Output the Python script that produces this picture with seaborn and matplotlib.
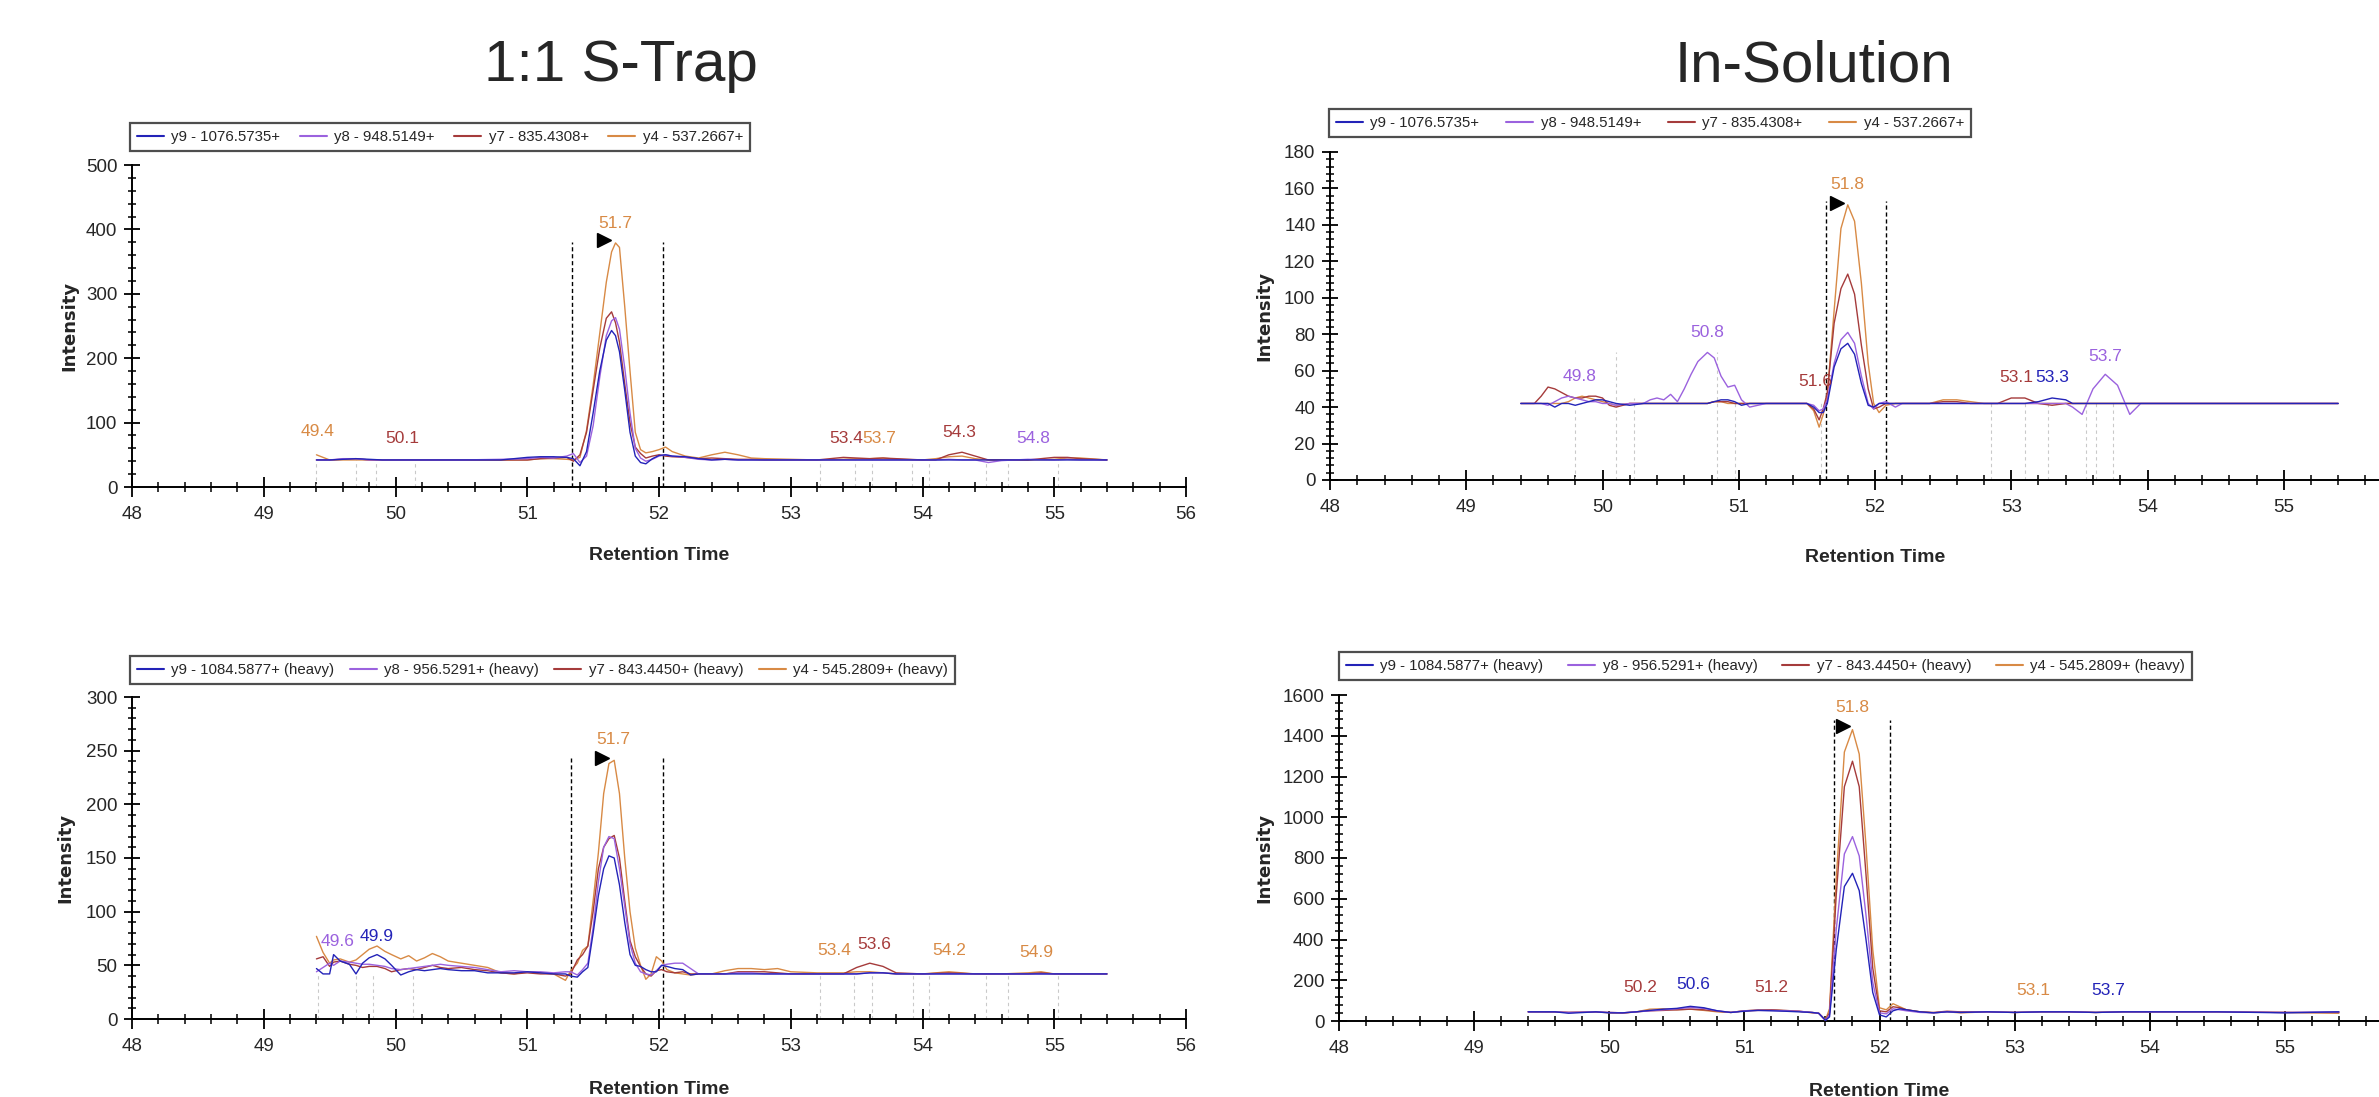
import numpy as np
import pandas as pd
import matplotlib
matplotlib.use('Agg')
import matplotlib.pyplot as plt
import seaborn as sns
from matplotlib import font_manager
from matplotlib.lines import Line2D
from matplotlib.ticker import MultipleLocator

# ---------------- data ----------------
ions = ['y9', 'y8', 'y7', 'y4']
top_labels = ['y9 - 1076.5735+', 'y8 - 948.5149+', 'y7 - 835.4308+', 'y4 - 537.2667+']
bottom_labels = ['y9 - 1084.5877+ (heavy)', 'y8 - 956.5291+ (heavy)',
                 'y7 - 843.4450+ (heavy)', 'y4 - 545.2809+ (heavy)']

# 1:1 S-Trap, light
tl_time = [49.4, 49.5, 49.6, 49.7, 49.8, 49.9, 50.0, 50.2, 50.5, 50.8,
           51.0, 51.1, 51.2, 51.3, 51.35, 51.4, 51.45, 51.5, 51.55, 51.6,
           51.64, 51.67, 51.7, 51.74, 51.78, 51.82, 51.86, 51.9, 51.95, 52.0,
           52.05, 52.1, 52.2, 52.3, 52.4, 52.5, 52.6, 52.7, 52.8, 53.0,
           53.2, 53.4, 53.5, 53.6, 53.7, 53.8, 54.0, 54.1, 54.2, 54.3,
           54.4, 54.5, 54.6, 54.8, 55.0, 55.1, 55.2, 55.4]
tl_y9 = [42, 42, 43, 44, 43, 42, 42, 42, 42, 42,
         46, 47, 47, 46, 44, 33, 55, 115, 180, 228,
         243, 235, 210, 150, 85, 48, 38, 36, 44, 49,
         50, 48, 47, 44, 42, 43, 42, 42, 42, 42,
         42, 42, 42, 42, 42, 42, 42, 42, 42, 42,
         42, 42, 42, 42, 42, 42, 42, 42]
tl_y8 = [42, 42, 44, 44, 42, 42, 42, 42, 42, 43,
         44, 46, 45, 48, 52, 38, 48, 95, 170, 235,
         258, 263, 245, 185, 115, 60, 45, 40, 43, 48,
         50, 48, 46, 43, 42, 43, 42, 42, 42, 42,
         42, 42, 42, 42, 42, 42, 42, 42, 43, 42,
         42, 38, 41, 43, 42, 43, 42, 42]
tl_y7 = [42, 42, 43, 44, 42, 42, 42, 42, 42, 42,
         42, 44, 45, 46, 40, 50, 85, 150, 215, 262,
         272, 255, 225, 160, 100, 62, 52, 45, 48, 50,
         48, 47, 46, 44, 45, 44, 43, 43, 42, 42,
         42, 46, 45, 44, 45, 44, 42, 42, 50, 54,
         48, 42, 42, 42, 46, 46, 44, 42]
tl_y4 = [50, 42, 42, 42, 42, 42, 42, 42, 42, 42,
         42, 44, 44, 43, 42, 46, 88, 158, 238, 318,
         365, 379, 372, 280, 180, 85, 58, 53, 55, 58,
         62, 55, 48, 45, 50, 54, 50, 45, 44, 43,
         42, 43, 44, 44, 45, 43, 42, 44, 47, 48,
         44, 42, 42, 42, 43, 45, 45, 42]

# In-Solution, light
tr_time = [49.4, 49.5, 49.55, 49.6, 49.65, 49.7, 49.75, 49.8, 49.85, 49.9,
           49.95, 50.0, 50.05, 50.1, 50.2, 50.3, 50.35, 50.4, 50.45, 50.5,
           50.55, 50.6, 50.65, 50.7, 50.77, 50.82, 50.87, 50.92, 50.97, 51.02,
           51.08, 51.2, 51.4, 51.5, 51.55, 51.59, 51.62, 51.65, 51.7, 51.75,
           51.8, 51.85, 51.9, 51.95, 51.99, 52.03, 52.08, 52.15, 52.2, 52.3,
           52.4, 52.5, 52.6, 52.7, 52.8, 52.9, 53.0, 53.1, 53.2, 53.3,
           53.4, 53.45, 53.52, 53.6, 53.69, 53.78, 53.87, 53.95, 54.2, 54.6,
           55.0, 55.4]
tr_y9 = [42, 42, 42, 42, 40, 42, 42, 41, 42, 43,
         44, 44, 43, 42, 41, 42, 42, 42, 42, 42,
         42, 42, 42, 42, 42, 43, 44, 44, 43, 41,
         42, 42, 42, 42, 40, 37, 37, 42, 62, 72,
         75, 69, 53, 41, 40, 42, 42, 42, 42, 42,
         42, 42, 42, 42, 42, 42, 42, 42, 43, 45,
         44, 42, 42, 42, 42, 42, 42, 42, 42, 42,
         42, 42]
tr_y8 = [42, 42, 42, 41, 43, 45, 46, 45, 44, 43,
         43, 42, 42, 41, 42, 42, 44, 45, 44, 47,
         43, 50, 58, 65, 70, 67, 57, 51, 52, 44,
         40, 42, 42, 42, 41, 38, 39, 44, 64, 77,
         81, 75, 57, 42, 39, 42, 43, 40, 42, 42,
         42, 42, 42, 42, 42, 42, 42, 42, 42, 42,
         42, 40, 36, 50, 58, 52, 36, 42, 42, 42,
         42, 42]
tr_y7 = [42, 42, 46, 51, 50, 48, 46, 45, 45, 46,
         46, 45, 41, 40, 42, 42, 42, 42, 42, 42,
         42, 42, 42, 42, 42, 43, 43, 43, 42, 42,
         42, 42, 42, 42, 39, 33, 39, 48, 86, 105,
         113, 102, 74, 50, 39, 40, 42, 42, 42, 42,
         42, 43, 43, 42, 42, 42, 45, 45, 42, 41,
         42, 42, 42, 42, 42, 42, 42, 42, 42, 42,
         42, 42]
tr_y4 = [42, 42, 42, 42, 42, 42, 43, 45, 46, 45,
         44, 43, 42, 41, 42, 42, 42, 42, 42, 42,
         42, 42, 42, 42, 42, 43, 43, 42, 42, 42,
         42, 42, 42, 42, 38, 29, 36, 47, 93, 138,
         151, 142, 108, 64, 42, 37, 41, 42, 42, 42,
         42, 44, 44, 43, 42, 42, 42, 42, 42, 42,
         42, 42, 42, 42, 42, 42, 42, 42, 42, 42,
         42, 42]

# 1:1 S-Trap, heavy
bl_time = [49.4, 49.45, 49.5, 49.53, 49.58, 49.65, 49.7, 49.75, 49.8, 49.86,
           49.92, 49.97, 50.04, 50.1, 50.16, 50.22, 50.28, 50.34, 50.4, 50.5,
           50.6, 50.7, 50.8, 50.9, 51.0, 51.1, 51.2, 51.29, 51.33, 51.38,
           51.42, 51.46, 51.5, 51.54, 51.58, 51.62, 51.66, 51.7, 51.74, 51.78,
           51.82, 51.86, 51.9, 51.94, 51.98, 52.02, 52.06, 52.12, 52.18, 52.24,
           52.3, 52.4, 52.5, 52.6, 52.7, 52.8, 52.9, 53.0, 53.2, 53.4,
           53.5, 53.6, 53.7, 53.8, 54.0, 54.2, 54.4, 54.6, 54.8, 54.9,
           55.0, 55.2, 55.4]
bl_y9 = [47, 42, 42, 60, 54, 51, 42, 52, 57, 60,
         56, 50, 41, 44, 46, 45, 46, 47, 46, 45,
         45, 43, 43, 43, 44, 43, 42, 42, 40, 39,
         44, 48, 80, 115, 140, 152, 150, 125, 90, 60,
         50, 49, 46, 44, 44, 50, 49, 47, 46, 41,
         42, 42, 42, 42, 42, 42, 42, 42, 42, 42,
         42, 43, 43, 42, 42, 42, 42, 42, 42, 42,
         42, 42, 42]
bl_y8 = [44, 48, 52, 50, 54, 53, 52, 51, 51, 50,
         49, 47, 46, 47, 48, 49, 50, 51, 50, 49,
         48, 46, 44, 45, 44, 44, 43, 44, 44, 41,
         46, 52, 85, 128, 160, 170, 168, 140, 105, 70,
         52, 44, 42, 41, 45, 50, 51, 52, 52, 47,
         42, 42, 42, 43, 43, 42, 42, 42, 42, 42,
         42, 43, 43, 42, 42, 42, 42, 42, 42, 42,
         42, 42, 42]
bl_y7 = [56, 58, 49, 53, 54, 51, 50, 48, 49, 49,
         47, 44, 46, 47, 46, 48, 50, 48, 47, 48,
         46, 45, 43, 42, 43, 42, 42, 40, 42, 55,
         60, 68, 100, 140, 160, 168, 171, 150, 110, 73,
         58, 49, 42, 40, 45, 46, 44, 43, 44, 42,
         42, 42, 42, 44, 44, 44, 43, 42, 42, 42,
         48, 52, 49, 43, 42, 43, 42, 42, 42, 43,
         42, 42, 42]
bl_y4 = [77, 62, 52, 55, 56, 53, 55, 60, 65, 68,
         63, 60, 56, 59, 54, 57, 61, 58, 54, 52,
         50, 48, 43, 42, 44, 43, 42, 36, 45, 52,
         64, 68, 110, 155, 210, 238, 241, 210, 150, 100,
         66, 50, 37, 42, 58, 54, 46, 43, 42, 41,
         42, 42, 45, 47, 47, 46, 47, 44, 43, 43,
         44, 44, 43, 42, 42, 44, 42, 42, 43, 44,
         42, 42, 42]

# In-Solution, heavy
br_time = [49.4, 49.6, 49.7, 49.9, 50.0, 50.1, 50.2, 50.3, 50.4, 50.5,
           50.6, 50.7, 50.8, 50.9, 51.0, 51.1, 51.2, 51.3, 51.4, 51.5,
           51.55, 51.6, 51.63, 51.68, 51.74, 51.8, 51.85, 51.9, 51.95, 52.0,
           52.05, 52.1, 52.15, 52.2, 52.3, 52.4, 52.5, 52.6, 52.8, 53.0,
           53.2, 53.4, 53.6, 53.8, 54.0, 54.5, 55.0, 55.4]
br_y9 = [45, 45, 38, 45, 40, 40, 45, 52, 58, 62,
         72, 65, 50, 42, 48, 52, 50, 48, 45, 42,
         38, 3, 20, 350, 660, 725, 640, 400, 140, 30,
         20, 50, 60, 55, 45, 40, 45, 42, 45, 42,
         45, 45, 42, 45, 45, 45, 40, 45]
br_y8 = [45, 45, 42, 45, 42, 40, 45, 50, 55, 60,
         66, 62, 50, 42, 50, 52, 52, 50, 48, 42,
         38, 4, 30, 450, 820, 905, 810, 520, 190, 40,
         35, 60, 55, 50, 42, 40, 45, 42, 45, 42,
         45, 45, 42, 45, 45, 45, 42, 45]
br_y7 = [45, 44, 42, 44, 42, 40, 45, 50, 52, 55,
         58, 55, 48, 42, 50, 54, 55, 52, 48, 42,
         38, 5, 40, 620, 1150, 1275, 1150, 720, 260, 50,
         45, 70, 65, 55, 45, 42, 48, 45, 45, 42,
         45, 45, 42, 45, 45, 45, 42, 42]
br_y4 = [45, 45, 42, 45, 40, 38, 45, 58, 60, 55,
         58, 52, 45, 42, 50, 52, 55, 50, 48, 40,
         38, 5, 60, 700, 1320, 1430, 1310, 860, 350, 65,
         55, 85, 70, 55, 45, 40, 45, 40, 45, 42,
         45, 45, 42, 45, 45, 45, 42, 38]

# peak apex labels: text, time, intensity, ion
tl_peaks = [('49.4', 49.41, 86, 'y4'), ('50.1', 50.05, 75, 'y7'), ('51.7', 51.67, 409, 'y4'),
            ('53.4', 53.42, 76, 'y7'), ('53.7', 53.67, 76, 'y4'), ('54.3', 54.28, 84, 'y7'),
            ('54.8', 54.84, 76, 'y8')]
tr_peaks = [('49.8', 49.83, 57, 'y8'), ('50.8', 50.77, 81, 'y8'), ('51.6', 51.56, 54, 'y7'),
            ('51.8', 51.8, 162, 'y4'), ('53.1', 53.04, 56, 'y7'), ('53.3', 53.3, 56, 'y9'),
            ('53.7', 53.69, 68, 'y8')]
bl_peaks = [('49.6', 49.56, 72, 'y8'), ('49.9', 49.86, 77, 'y9'), ('51.7', 51.65, 260, 'y4'),
            ('53.4', 53.33, 64, 'y4'), ('53.6', 53.63, 69, 'y7'), ('54.2', 54.2, 64, 'y4'),
            ('54.9', 54.86, 62, 'y4')]
br_peaks = [('50.2', 50.23, 162, 'y7'), ('50.6', 50.62, 178, 'y9'), ('51.2', 51.2, 162, 'y7'),
            ('51.8', 51.8, 1540, 'y4'), ('53.1', 53.14, 152, 'y4'), ('53.7', 53.69, 150, 'y9')]

# integration boundaries (start, end, height) and apex arrow (time, intensity)
tl_bounds, tl_arrow = (51.34, 52.03, 380), (51.58, 383)
tr_bounds, tr_arrow = (51.64, 52.08, 153), (51.72, 152)
bl_bounds, bl_arrow = (51.33, 52.03, 243), (51.57, 243)
br_bounds, br_arrow = (51.66, 52.08, 1475), (51.73, 1447)

# faint candidate-peak markers (time, height)
tl_marks = [(49.4, 42), (49.7, 42), (49.85, 42), (50.15, 42), (53.22, 42), (53.49, 42),
            (53.62, 42), (53.92, 42), (54.05, 42), (54.48, 42), (54.65, 42), (55.03, 42)]
tr_marks = [(49.8, 40), (50.1, 70), (50.23, 45), (50.84, 70), (50.97, 44), (51.6, 42),
            (52.85, 42), (53.1, 42), (53.27, 42), (53.55, 42), (53.62, 42), (53.75, 42)]
bl_marks = [(49.41, 42), (49.7, 42), (49.83, 42), (50.13, 42), (53.22, 42), (53.48, 42),
            (53.62, 42), (53.93, 42), (54.05, 42), (54.48, 42), (54.65, 42), (55.03, 42)]
br_marks = []

# ---------------- style ----------------
W, H = 2379, 1097
sns.set_theme(style='white')
names = {f.name for f in font_manager.fontManager.ttflist}
NARROW = 'Liberation Sans Narrow' if 'Liberation Sans Narrow' in names else 'Liberation Sans'
plt.rcParams['font.family'] = [NARROW, 'DejaVu Sans']

colors = {'y9': '#2323b8', 'y8': '#9b62de', 'y7': '#a53b3b', 'y4': '#d88a45'}


def px_axes(fig, left, top, right, bottom):
    return fig.add_axes([left / W, 1 - bottom / H, (right - left) / W, (bottom - top) / H])


def draw_panel(fig, box, time, series, labels, ymax, ystep, peaks, bounds, arrow, marks,
               legend_box, ylabel_x, xlabel_y, last_tick=56):
    left, top, right, bottom = box
    ax = px_axes(fig, left, top, right, bottom)
    ax.set_facecolor('none')

    for t, h in marks:
        ax.plot([t, t], [0, h], color='#c9c9c9', lw=0.8, ls=(0, (3, 3)), zorder=1)
    b0, b1, bh = bounds
    for t in (b0, b1):
        ax.plot([t, t], [0, bh], color='black', lw=1.0, ls=(0, (3, 2)), zorder=2)

    df = pd.DataFrame({
        'time': np.tile(time, len(ions)),
        'intensity': np.concatenate([series[k] for k in ions]),
        'ion': np.repeat(ions, len(time)),
    })
    sns.lineplot(data=df, x='time', y='intensity', hue='ion', hue_order=ions[::-1],
                 palette=colors, estimator=None, sort=False, lw=1.0, legend=False,
                 ax=ax, zorder=3)

    ax.plot([arrow[0]], [arrow[1]], marker='>', color='black', ms=10, zorder=4)
    for txt, t, v, ion in peaks:
        ax.text(t, v, txt, color=colors[ion], fontsize=12.5, ha='center', va='center', zorder=5)

    ax.set_xlim(48, 56)
    ax.set_ylim(0, ymax)
    ax.set_xticks(range(48, last_tick + 1))
    ax.xaxis.set_minor_locator(MultipleLocator(0.2))
    ax.yaxis.set_major_locator(MultipleLocator(ystep))
    ax.yaxis.set_minor_locator(MultipleLocator(ystep / 5))
    for s in ('top', 'right'):
        ax.spines[s].set_visible(False)
    for s in ('left', 'bottom'):
        ax.spines[s].set_color('black')
        ax.spines[s].set_linewidth(1.4)
    ax.tick_params(axis='x', which='major', direction='inout', length=14, width=1.3,
                   color='black', labelsize=13.5, pad=7, bottom=True)
    ax.tick_params(axis='x', which='minor', direction='inout', length=7, width=1.1,
                   color='black', bottom=True)
    ax.tick_params(axis='y', which='major', direction='inout', length=11, width=1.3,
                   color='black', labelsize=13.5, pad=5, left=True)
    ax.tick_params(axis='y', which='minor', direction='inout', length=6, width=1.1,
                   color='black', left=True)

    ax_w, ax_h = right - left, bottom - top
    ax.set_xlabel('Retention Time', fontsize=14, fontweight='bold', va='center')
    ax.xaxis.set_label_coords(0.5, -(xlabel_y - bottom) / ax_h)
    ax.set_ylabel('Intensity', fontsize=13, fontweight='bold', family='DejaVu Sans',
                  va='center')
    ax.yaxis.set_label_coords(-(left - ylabel_x) / ax_w, 0.5)

    lx0, ly0, lx1, ly1 = legend_box
    handles = [Line2D([], [], color=colors[k], lw=1.5) for k in ions]
    leg = ax.legend(handles, labels, loc='center left',
                    bbox_to_anchor=(lx0 / W, 1 - ly1 / H, (lx1 - lx0) / W, (ly1 - ly0) / H),
                    bbox_transform=fig.transFigure, mode='expand', ncol=4, frameon=True,
                    fancybox=False, edgecolor='#222222', fontsize=10.8, handlelength=1.8,
                    handletextpad=0.5, borderaxespad=0, borderpad=0.45, columnspacing=0.8)
    leg.get_frame().set_linewidth(1.6)
    return ax


fig = plt.figure(figsize=(W / 100, H / 100), dpi=100)
fig.patch.set_facecolor('white')

fig.text(621 / W, 1 - 66 / H, '1:1 S-Trap', fontsize=42, family='Liberation Sans',
         ha='center', va='center')
fig.text(1814 / W, 1 - 66 / H, 'In-Solution', fontsize=42, family='Liberation Sans',
         ha='center', va='center')

draw_panel(fig, (132, 165, 1186, 487), tl_time,
           {'y9': tl_y9, 'y8': tl_y8, 'y7': tl_y7, 'y4': tl_y4}, top_labels,
           500, 100, tl_peaks, tl_bounds, tl_arrow, tl_marks,
           (130, 121, 750, 153), 69, 555)
draw_panel(fig, (1330, 152, 2420, 480), tr_time,
           {'y9': tr_y9, 'y8': tr_y8, 'y7': tr_y7, 'y4': tr_y4}, top_labels,
           180, 20, tr_peaks, tr_bounds, tr_arrow, tr_marks,
           (1329, 107, 1971, 139), 1264, 557, last_tick=55)
draw_panel(fig, (132, 697, 1186, 1019), bl_time,
           {'y9': bl_y9, 'y8': bl_y8, 'y7': bl_y7, 'y4': bl_y4}, bottom_labels,
           300, 50, bl_peaks, bl_bounds, bl_arrow, bl_marks,
           (130, 654, 955, 686), 65, 1089)
draw_panel(fig, (1339, 695, 2420, 1021), br_time,
           {'y9': br_y9, 'y8': br_y8, 'y7': br_y7, 'y4': br_y4}, bottom_labels,
           1600, 200, br_peaks, br_bounds, br_arrow, br_marks,
           (1339, 650, 2192, 682), 1264, 1091, last_tick=55)

fig.savefig('out.png', dpi=100)
